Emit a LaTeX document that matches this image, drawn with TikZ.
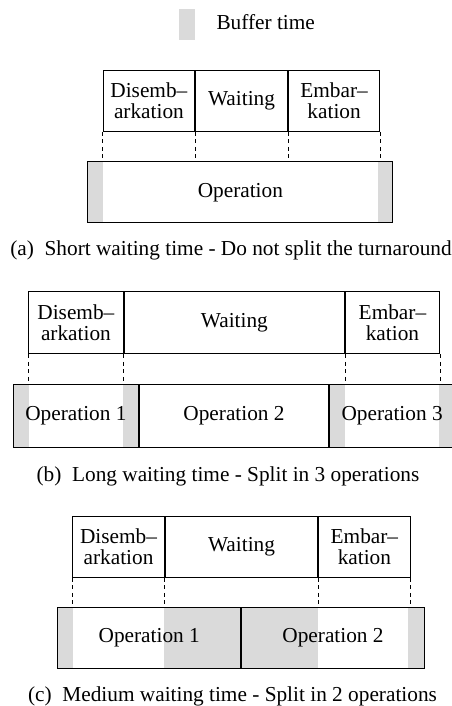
\documentclass[tikz,border=0pt]{standalone}
\usepackage{fontspec}
\setmainfont{Liberation Serif}
\usetikzlibrary{positioning}
\usetikzlibrary{calc}
\definecolor{buffergray}{RGB}{218,218,218}
\tikzset{phase/.style={rectangle, draw, line width=1.1pt, anchor=north west, inner sep=0pt, align=center, minimum height=61pt, minimum width=#1}}
\tikzset{operation/.style n args={3}{rectangle, draw, line width=1.1pt, anchor=north west, inner sep=0pt, minimum height=61pt, minimum width=#1,
    path picture={
        \fill[buffergray] (path picture bounding box.north west) rectangle ([xshift=#2]path picture bounding box.south west);
        \fill[buffergray] ([xshift=-#3]path picture bounding box.north east) rectangle (path picture bounding box.south east);}}}
\tikzset{gap/.style={dash pattern=on 4pt off 3.5pt, line width=0.8pt}}
\tikzset{caption/.style={anchor=base}}
\tikzset{legend/.style={rectangle, fill=buffergray, anchor=north west, inner sep=0pt, minimum width=16pt, minimum height=31pt}}

\begin{document}
\begin{tikzpicture}[x=1pt, y=-1pt, every node/.style={font=\fontsize{21.3}{21}\selectfont}]
    \useasboundingbox (0,0) rectangle (451,706);

    % ------- Legend ------- %
    \node [legend] (swatch) at (179,9) {};
    \node [anchor=base west] (bufferText) at (213,30) {Buffer time};

    % ------- Start Part (a) ------- %
    \node [phase=91.3pt] (dis0) at (102.7,69.7) {Disemb--\\arkation};
    \node [phase=91.7pt] (wait0) at (dis0.north east) {Waiting};
    \node [phase=91.3pt] (emb0) at (wait0.north east) {Embar--\\kation};

    \node [operation={305pt}{15.5pt}{15pt}] (op0) at (87.3,161.3) {Operation};

    % The dashed lines between the phases and the operation.
    \draw [gap] (dis0.south west) -- (dis0.south west |- op0.north);
    \draw [gap] (dis0.south east) -- (dis0.south east |- op0.north);
    \draw [gap] (wait0.south east) -- (wait0.south east |- op0.north);
    \draw [gap] (emb0.south east) -- (emb0.south east |- op0.north);

    \node [caption] (capA) at (231,255) {(a)\enspace Short waiting time - Do not split the turnaround};
    % ------- End Part (a) ------- %

    % ------- Start Part (b) ------- %
    \node [phase=94.7pt, minimum height=62.6pt] (dis1) at (28,290.7) {Disemb--\\arkation};
    \node [phase=220pt, minimum height=62.6pt] (wait1) at (dis1.north east) {Waiting};
    \node [phase=94pt, minimum height=62.6pt] (emb1) at (wait1.north east) {Embar--\\kation};

    \node [operation={125.3pt}{15.3pt}{16pt}, minimum height=63.3pt] (op1) at (12.7,384) {Operation 1};
    \node [operation={188.7pt}{0pt}{0pt}, minimum height=63.3pt] (op2) at (op1.north east) {Operation 2};
    \node [operation={125.3pt}{16pt}{15.3pt}, minimum height=63.3pt] (op3) at (op2.north east) {Operation 3};

    % The dashed lines between the phases and the operations.
    \draw [gap] (dis1.south west) -- (dis1.south west |- op1.north);
    \draw [gap] (dis1.south east) -- (dis1.south east |- op1.north);
    \draw [gap] (wait1.south east) -- (wait1.south east |- op1.north);
    \draw [gap] (emb1.south east) -- (emb1.south east |- op1.north);

    \node [caption] (capB) at (228,481) {(b)\enspace Long waiting time - Split in 3 operations};
    % ------- End Part (b) ------- %

    % ------- Start Part (c) ------- %
    \node [phase=91.4pt] (dis2) at (72.3,515.7) {Disemb--\\arkation};
    \node [phase=152.3pt] (wait2) at (dis2.north east) {Waiting};
    \node [phase=91.3pt] (emb2) at (wait2.north east) {Embar--\\kation};

    \node [operation={182.7pt}{15pt}{77pt}] (op4) at (57.3,606.7) {Operation 1};
    \node [operation={182.7pt}{76.7pt}{16pt}] (op5) at (op4.north east) {Operation 2};

    % The dashed lines between the phases and the operations.
    \draw [gap] (dis2.south west) -- (dis2.south west |- op4.north);
    \draw [gap] (dis2.south east) -- (dis2.south east |- op4.north);
    \draw [gap] (wait2.south east) -- (wait2.south east |- op4.north);
    \draw [gap] (emb2.south east) -- (emb2.south east |- op4.north);

    \node [caption] (capC) at (232.5,701) {(c)\enspace Medium waiting time - Split in 2 operations};
    % ------- End Part (c) ------- %
\end{tikzpicture}
\end{document}
